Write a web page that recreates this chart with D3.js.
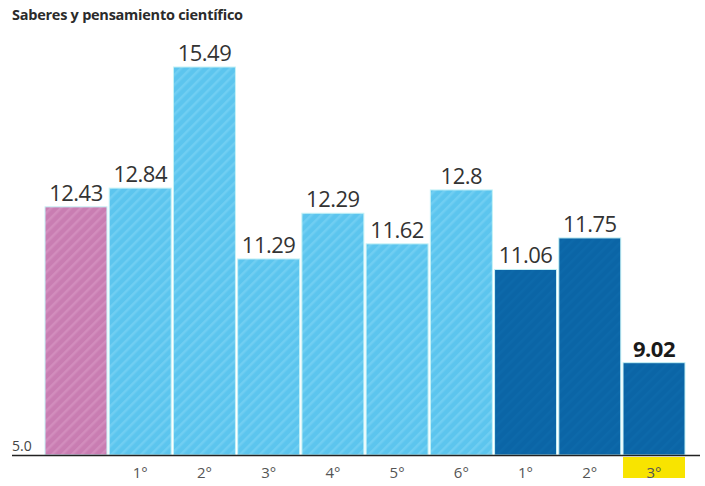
<!DOCTYPE html>
<html>
<head>
<meta charset="utf-8">
<script src="https://cdn.jsdelivr.net/npm/d3@7"></script>
<style>
  html, body { margin: 0; padding: 0; background: #fff; }
  svg { display: block; font-family: "Open Sans", "Noto Sans", sans-serif; }
</style>
</head>
<body>
<svg id="chart" width="705" height="486"></svg>
<script>
const title = "Saberes y pensamiento científico";
const categories = ["Total", "1°", "2°", "3°", "4°", "5°", "6°", "1°s", "2°s", "3°s"];
const tickLabels = ["", "1°", "2°", "3°", "4°", "5°", "6°", "1°", "2°", "3°"];
const values = [12.43, 12.84, 15.49, 11.29, 12.29, 11.62, 12.8, 11.06, 11.75, 9.02];
const groups = ["total", "primaria", "primaria", "primaria", "primaria", "primaria", "primaria", "secundaria", "secundaria", "secundaria"];
const highlight = [false, false, false, false, false, false, false, false, false, true];
const axisLabel = "5.0";
const axisMin = 7.0;

const svg = d3.select("#chart");
const defs = svg.append("defs");

function hatch(id, base, stripe) {
  const p = defs.append("pattern").attr("id", id)
    .attr("patternUnits", "userSpaceOnUse").attr("width", 7).attr("height", 7)
    .attr("patternTransform", "rotate(45)");
  p.append("rect").attr("width", 7).attr("height", 7).attr("fill", base);
  p.append("rect").attr("x", 0).attr("width", 2.5).attr("height", 7).attr("fill", stripe);
}
hatch("hPink", "#c97db2", "#d28dbd");
hatch("hBlue", "#5cc5ee", "#70cef2");
hatch("hDark", "#0b65a6", "#0d69aa");
const fills = { total: "url(#hPink)", primaria: "url(#hBlue)", secundaria: "url(#hDark)" };

const x = d3.scaleBand().domain(categories).range([45, 685]).paddingInner(0.035).paddingOuter(0);
const y = d3.scaleLinear().domain([axisMin, 15.49]).range([455, 67]);

svg.append("text").attr("x", 12).attr("y", 20)
  .attr("font-size", 14.5).attr("font-weight", 700).attr("fill", "#2b2b2b")
  .attr("letter-spacing", -0.25)
  .text(title);

const data = categories.map((c, i) => ({ c, v: values[i], g: groups[i], t: tickLabels[i], h: highlight[i] }));

svg.selectAll("rect.bar").data(data).join("rect").attr("class", "bar")
  .attr("x", d => x(d.c)).attr("width", x.bandwidth())
  .attr("y", d => y(d.v)).attr("height", d => y(axisMin) - y(d.v))
  .attr("fill", d => fills[d.g])
  .attr("stroke", "#c6f2f6").attr("stroke-width", 1);

svg.selectAll("text.val").data(data).join("text").attr("class", "val")
  .attr("x", d => x(d.c) + x.bandwidth() / 2).attr("y", d => y(d.v) - 6)
  .attr("text-anchor", "middle").attr("font-size", 22)
  .attr("font-weight", d => d.h ? 700 : 400)
  .attr("fill", d => d.h ? "#1a1a1a" : "#333")
  .attr("letter-spacing", -0.5)
  .text(d => String(d.v));

svg.append("line").attr("x1", 12).attr("x2", 700).attr("y1", 455.5).attr("y2", 455.5)
  .attr("stroke", "#222").attr("stroke-width", 1.5);
svg.append("text").attr("x", 12).attr("y", 451).attr("font-size", 14).attr("fill", "#444")
  .text(axisLabel);

svg.selectAll("rect.hl").data(data.filter(d => d.h)).join("rect").attr("class", "hl")
  .attr("x", d => x(d.c)).attr("width", x.bandwidth())
  .attr("y", 457).attr("height", 21).attr("fill", "#f8e400");

svg.selectAll("text.cat").data(data).join("text").attr("class", "cat")
  .attr("x", d => x(d.c) + x.bandwidth() / 2).attr("y", 478)
  .attr("text-anchor", "middle").attr("font-size", 15).attr("fill", "#555")
  .text(d => d.t);
</script>
</body>
</html>
